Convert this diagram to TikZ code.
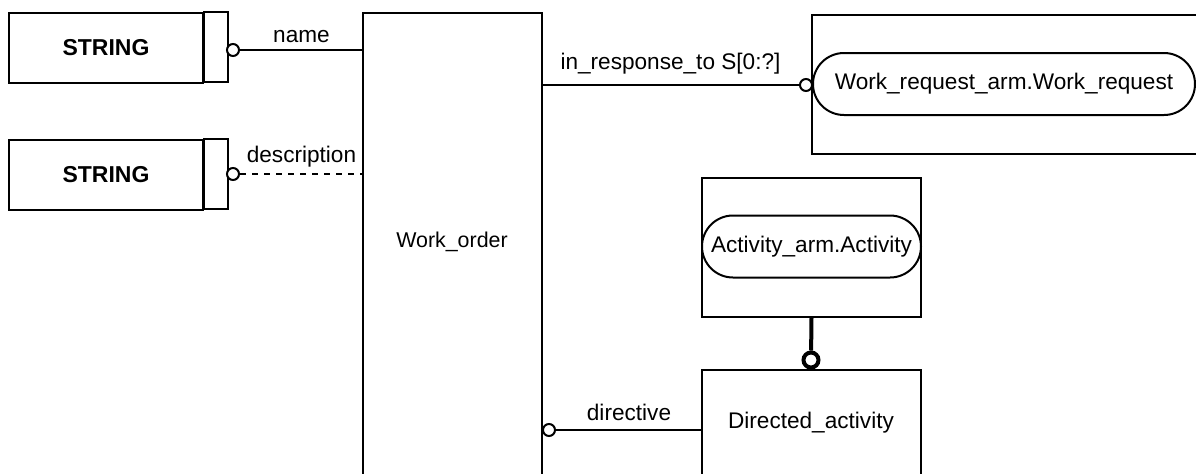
\documentclass[tikz,border=0pt]{standalone}
\usepackage{fontspec}
\setmainfont{Liberation Sans}
\usetikzlibrary{shapes.misc}
\begin{document}
\begin{tikzpicture}
  [x=0.5pt,y=-0.5pt,line width=1pt,every node/.style={font=\fontsize{11.3}{13}\selectfont,inner sep=0pt}]
  \tikzstyle{ent} = [draw,rectangle]
  \tikzstyle{pill} = [draw,rounded rectangle,minimum height=31pt]
  \tikzstyle{ring} = [draw,circle,fill=white,minimum size=6pt]
  \tikzstyle{lbl} = [fill=none]
  \useasboundingbox (0,0) rectangle (1196,473);
  \clip (0,0) rectangle (1196,473);
  % simple types
  \node[ent,minimum width=97pt,minimum height=35pt,font=\fontsize{11.5}{13}\selectfont\bfseries] (str1) at (106,48) {STRING};
  \draw (str1.north east) rectangle ++(24,70);
  \node[ent,minimum width=97pt,minimum height=35pt,font=\fontsize{11.5}{13}\selectfont\bfseries] (str2) at (106,175) {STRING};
  \draw (str2.north east) rectangle ++(24,70);
  % entities
  \node[ent,minimum width=89.5pt,minimum height=240pt] (wo) at (452.5,253) {};
  \node[font=\fontsize{10.7}{12}\selectfont] (wotext) at (452,242) {Work\_order};
  \node[ent,minimum width=109.5pt,minimum height=70pt] (da) at (811.5,440) {};
  \node (datext) at (811,423) {Directed\_activity};
  \node[ent,minimum width=194pt,minimum height=69.5pt] (wrbox) at (1006,84.5) {};
  \node[pill,minimum width=191pt] (wr) at (1004,84) {Work\_request\_arm.Work\_request};
  \node[ent,minimum width=109.5pt,minimum height=69.5pt] (acbox) at (811.5,247.5) {};
  \node[pill,minimum width=109.5pt] (ac) at (811.5,246.5) {Activity\_arm.Activity};
  % rings
  \node[ring] (r1) at (233,50) {};
  \node[ring] (r2) at (233,174) {};
  \node[ring] (r3) at (806,85) {};
  \node[ring] (r4) at (549,430) {};
  \node[ring,minimum size=7.5pt,line width=2pt] (r5) at (811,360) {};
  % relations
  \coordinate (w1) at (363,50);
  \coordinate (w2) at (363,174);
  \coordinate (w3) at (542,85);
  \coordinate (d1) at (702,430);
  \draw (r1) -- node[lbl,above=3pt] {name} (w1);
  \draw[dashed] (r2) -- node[lbl,above=3pt] {description} (w2);
  \draw (w3) -- node[lbl,above=5pt] {in\_response\_to S[0:?]} (r3);
  \draw (r4) -- node[lbl,above=4pt] {directive} (d1);
  \draw[line width=2pt] (acbox.south) -- (r5);
\end{tikzpicture}
\end{document}
